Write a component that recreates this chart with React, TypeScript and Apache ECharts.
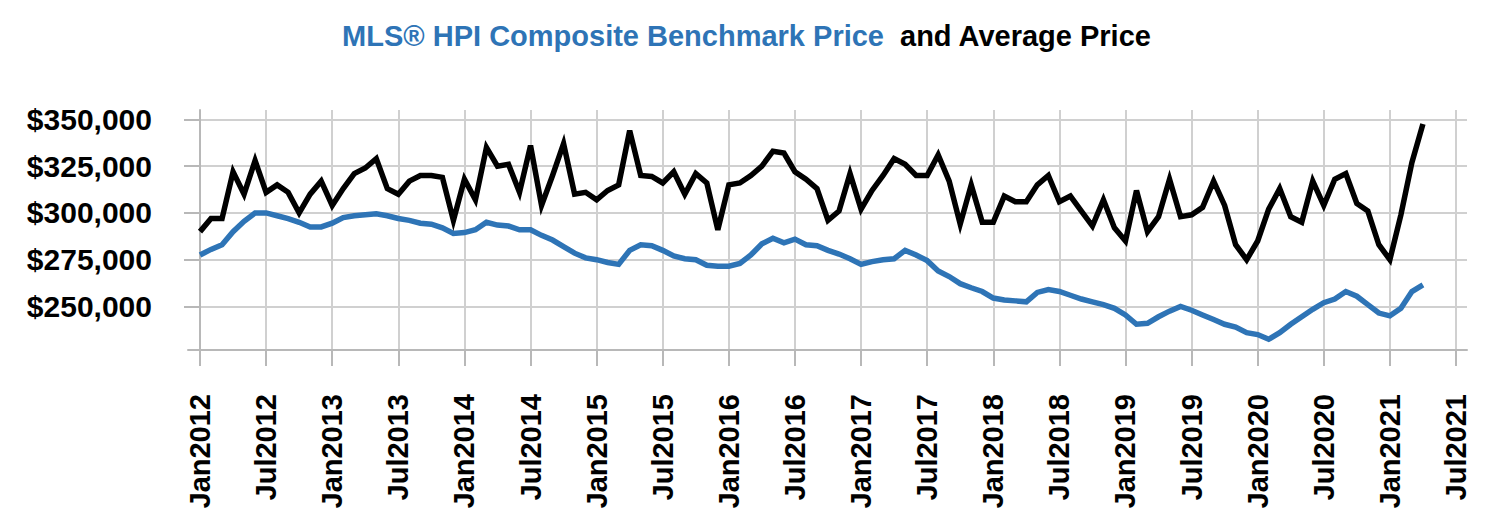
import React, { useEffect, useRef } from "react";
import * as echarts from "echarts";

// Monthly values, Jan 2012 .. Apr 2021 (index 0 = Jan 2012)
const averagePrice: number[] = [
  290000, 297000, 297000, 322000, 310000, 328000, 311000, 315000, 311000, 300000,
  310000, 317000, 304000, 313000, 321000, 324000, 329000, 313000, 310000, 317000,
  320000, 320000, 319000, 296000, 318000, 307000, 335000, 325000, 326000, 311000,
  336000, 304000, 320000, 337000, 310000, 311000, 307000, 312000, 315000, 344000,
  320000, 319500, 316000, 322000, 310000, 321000, 316000, 291000, 315000, 316000,
  320000, 325000, 333000, 332000, 322000, 318000, 313000, 296000, 301000, 321000,
  302000, 312000, 320000, 329000, 326000, 320000, 320000, 331000, 317000, 294000,
  315000, 295000, 295000, 309000, 306000, 306000, 315000, 320000, 306000, 309000,
  301000, 293000, 307000, 292000, 285000, 312000, 290000, 298000, 318000, 298000,
  299000, 303000, 317000, 304000, 283000, 275000, 285000, 302000, 313000, 298000,
  295000, 317000, 304000, 318000, 321000, 305000, 301000, 283000, 275000, 299000,
  327000, 347500,
];

const hpiBenchmark: number[] = [
  277500, 280500, 283000, 290000, 295500, 300000, 300000, 298500, 297000, 295000,
  292500, 292500, 294500, 297500, 298500, 299000, 299500, 298500, 297000, 296000,
  294500, 294000, 292000, 289000, 289500, 291000, 295000, 293500, 293000, 291000,
  291000, 288000, 285500, 282000, 278500, 276000, 275000, 273500, 272500, 280000,
  283000, 282500, 280000, 277000, 275500, 275000, 272000, 271500, 271500, 273000,
  277500, 283500, 286500, 284000, 286000, 283000, 282500, 280000, 278000, 275500,
  272500, 274000, 275000, 275500, 280000, 277500, 274500, 269000, 266000, 262200,
  260000, 258000, 254500, 253500, 253000, 252500, 257500, 259000, 258000, 256000,
  254000, 252500, 251000, 249000, 245500, 240500, 241000, 244500, 247500, 250000,
  248000, 245500, 243000, 240500, 239000, 236000, 235000, 232500, 236000, 240500,
  244500, 248500, 252000, 254000, 258000, 255500, 251000, 246500, 245000, 249000,
  258000, 261500,
];

const xTickLabels: string[] = [
  "Jan2012", "Jul2012", "Jan2013", "Jul2013", "Jan2014", "Jul2014", "Jan2015",
  "Jul2015", "Jan2016", "Jul2016", "Jan2017", "Jul2017", "Jan2018", "Jul2018",
  "Jan2019", "Jul2019", "Jan2020", "Jul2020", "Jan2021", "Jul2021",
];

const yTicks: number[] = [250000, 275000, 300000, 325000, 350000];

const BLUE = "#2e74b6";
const FONT = '"Liberation Sans", Arial, sans-serif';

export default function App() {
  const ref = useRef<HTMLDivElement>(null);

  useEffect(() => {
    if (!ref.current) return;
    const chart = echarts.init(ref.current, undefined, { renderer: "svg" });
    const xTickValues = xTickLabels.map((_, k) => k * 6);

    chart.setOption({
      animation: false,
      backgroundColor: "#ffffff",
      textStyle: { fontFamily: FONT },
      graphic: [
        {
          type: "text",
          x: 884,
          y: 36,
          style: {
            text: "MLS® HPI Composite Benchmark Price",
            fill: BLUE,
            font: `bold 29px ${FONT}`,
            align: "right",
            verticalAlign: "middle",
          },
        },
        {
          type: "text",
          x: 900,
          y: 36,
          style: {
            text: "and Average Price",
            fill: "#000000",
            font: `bold 29px ${FONT}`,
            align: "left",
            verticalAlign: "middle",
          },
        },
      ],
      grid: {
        left: 188,
        right: 33,
        top: 110,
        bottom: 171,
        containLabel: false,
        outerBoundsMode: "none",
      },
      xAxis: {
        type: "value",
        min: -1.09,
        max: 115,
        axisLine: { show: true, lineStyle: { color: "#b8b8b8", width: 2 } },
        axisTick: {
          show: true,
          inside: false,
          length: 16,
          customValues: xTickValues,
          lineStyle: { color: "#b8b8b8", width: 2 },
        },
        axisLabel: {
          customValues: xTickValues,
          rotate: 90,
          margin: 44,
          color: "#000000",
          fontSize: 29,
          fontWeight: "bold",
          fontFamily: FONT,
          formatter: (v: number) => xTickLabels[Math.round(v / 6)] ?? "",
        },
        splitLine: { show: true, lineStyle: { color: "#d0d0d0", width: 2 } },
      },
      yAxis: {
        type: "value",
        min: 226750,
        max: 355000,
        axisLine: { show: true, lineStyle: { color: "#b8b8b8", width: 2 } },
        axisTick: {
          show: true,
          inside: false,
          length: 16,
          customValues: yTicks,
          lineStyle: { color: "#b8b8b8", width: 2 },
        },
        axisLabel: {
          customValues: yTicks,
          margin: 36,
          color: "#000000",
          fontSize: 30,
          fontWeight: "bold",
          fontFamily: FONT,
          formatter: (v: number) => "$" + v.toLocaleString("en-US"),
        },
        splitLine: { show: true, lineStyle: { color: "#d0d0d0", width: 2 } },
      },
      series: [
        {
          name: "MLS® HPI Composite Benchmark Price",
          type: "line",
          data: hpiBenchmark.map((v, i) => [i, v]),
          showSymbol: false,
          symbol: "none",
          lineStyle: { color: BLUE, width: 5.5, join: "miter" },
          z: 3,
        },
        {
          name: "Average Price",
          type: "line",
          data: averagePrice.map((v, i) => [i, v]),
          showSymbol: false,
          symbol: "none",
          lineStyle: { color: "#000000", width: 5.5, join: "miter" },
          z: 4,
        },
      ],
    });

    return () => chart.dispose();
  }, []);

  return (
    <div
      ref={ref}
      style={{ position: "absolute", left: 0, top: 0, width: 1500, height: 521 }}
    />
  );
}
